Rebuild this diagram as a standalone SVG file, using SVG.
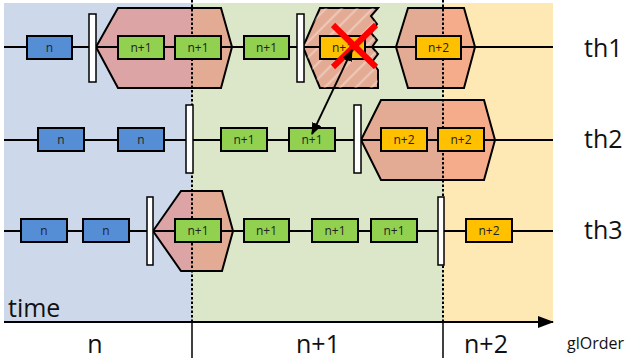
<svg xmlns="http://www.w3.org/2000/svg" width="629" height="362" viewBox="0 0 629 362">
  <style>
    .row { stroke: #000; stroke-width: 2; fill: none; }
    .sync { stroke: #000; stroke-width: 2; stroke-dasharray: 2.5 2; fill: none; }
    .tick { stroke: #000; stroke-width: 1.5; fill: none; }
    .hex { fill: rgba(236,112,96,0.5); stroke: #000; stroke-width: 2; stroke-linejoin: miter; }
    .bar { fill: #fff; stroke: #000; stroke-width: 1.5; }
    .box { stroke: #000; stroke-width: 2; }
    .bn { fill: #558ed5; }
    .bn1 { fill: #92d050; }
    .bn2 { fill: #ffc000; }
    .lbl { font-family: "Open Sans", "Noto Sans", sans-serif; font-size: 12px; fill: #222; text-anchor: middle; }
    .big { font-family: "Open Sans", "Noto Sans", sans-serif; font-size: 25px; fill: #111; }
    .mid { text-anchor: middle; }
  </style>
  <defs>
    <pattern id="hatch" patternUnits="userSpaceOnUse" width="11" height="11" patternTransform="rotate(-45)">
      <line x1="0" y1="5.5" x2="11" y2="5.5" stroke="#fff" stroke-width="1.8" stroke-opacity="0.4"/>
    </pattern>
    <marker id="head" viewBox="0 0 12 10" refX="11" refY="5" markerWidth="12" markerHeight="10" markerUnits="userSpaceOnUse" orient="auto-start-reverse">
      <path d="M0,0 L12,5 L0,10 z" fill="#000"/>
    </marker>
    <marker id="axisHead" viewBox="0 0 16 12" refX="15" refY="6" markerWidth="16" markerHeight="12" markerUnits="userSpaceOnUse" orient="auto">
      <path d="M0,0 L16,6 L0,12 z" fill="#000"/>
    </marker>
  </defs>

  <!-- phase bands -->
  <rect x="4" y="3" width="188" height="319" fill="#cdd9ea"/>
  <rect x="192" y="3" width="251" height="319" fill="#dce6c9"/>
  <rect x="443" y="3" width="110" height="319" fill="#fee9b5"/>

  <!-- parallel regions -->
  <g id="region-th1-a"><polygon class="hex" points="96,47 118,8 221,8 232,47 221,88 118,88"/></g>
  <g id="region-th1-b">
    <polygon class="hex" points="303,47 320,8 378,8 371,16 377,24 371,33 377,40 372,47 378,54 372,62 378,70 378,88 320,88"/>
    <polygon points="303,47 320,8 378,8 371,16 377,24 371,33 377,40 372,47 378,54 372,62 378,70 378,88 320,88" fill="url(#hatch)"/>
  </g>
  <g id="region-th1-c"><polygon class="hex" points="396,47 408,8 464,8 475,47 464,88 408,88"/></g>
  <g id="region-th2"><polygon class="hex" points="361,140 381,100 484,100 495,140 484,180 381,180"/></g>
  <g id="region-th3"><polygon class="hex" points="153,231 181,191 222,191 233,231 222,271 181,271"/></g>

  <!-- thread timelines -->
  <line class="row" x1="4" y1="47" x2="553" y2="47"/>
  <line class="row" x1="4" y1="140" x2="553" y2="140"/>
  <line class="row" x1="4" y1="231" x2="553" y2="231"/>

  <!-- phase boundaries -->
  <line class="sync" x1="192" y1="0" x2="192" y2="322"/>
  <line class="sync" x1="443" y1="0" x2="443" y2="322"/>

  <!-- barriers -->
  <g id="barrier-th1-1"><rect class="bar" x="89" y="14" width="7" height="68"/></g>
  <g id="barrier-th1-2"><rect class="bar" x="297" y="14" width="7" height="68"/></g>
  <g id="barrier-th2-1"><rect class="bar" x="186" y="105" width="7" height="68"/></g>
  <g id="barrier-th2-2"><rect class="bar" x="354" y="105" width="7" height="68"/></g>
  <g id="barrier-th3-1"><rect class="bar" x="147" y="197" width="6" height="68"/></g>
  <g id="barrier-th3-2"><rect class="bar" x="438" y="197" width="6" height="68"/></g>

  <!-- th1 tasks -->
  <g id="t1-1"><rect class="box bn" x="27" y="36" width="45" height="23"/><text class="lbl" x="49.5" y="52">n</text></g>
  <g id="t1-2"><rect class="box bn1" x="118" y="36" width="46" height="23"/><text class="lbl" x="141" y="52">n+1</text></g>
  <g id="t1-3"><rect class="box bn1" x="175" y="36" width="46" height="23"/><text class="lbl" x="198" y="52">n+1</text></g>
  <g id="t1-4"><rect class="box bn1" x="244" y="36" width="45" height="23"/><text class="lbl" x="266.5" y="52">n+1</text></g>
  <g id="t1-5"><rect class="box bn2" x="320" y="36" width="45" height="23"/><text class="lbl" x="342.5" y="52">n+1</text></g>
  <g id="t1-6"><rect class="box bn2" x="416" y="36" width="45" height="23"/><text class="lbl" x="438.5" y="52">n+2</text></g>

  <!-- th2 tasks -->
  <g id="t2-1"><rect class="box bn" x="38" y="128" width="46" height="23"/><text class="lbl" x="61" y="144">n</text></g>
  <g id="t2-2"><rect class="box bn" x="118" y="128" width="46" height="23"/><text class="lbl" x="141" y="144">n</text></g>
  <g id="t2-3"><rect class="box bn1" x="221" y="128" width="46" height="23"/><text class="lbl" x="244" y="144">n+1</text></g>
  <g id="t2-4"><rect class="box bn1" x="289" y="128" width="46" height="23"/><text class="lbl" x="312" y="144">n+1</text></g>
  <g id="t2-5"><rect class="box bn2" x="381" y="128" width="46" height="23"/><text class="lbl" x="404" y="144">n+2</text></g>
  <g id="t2-6"><rect class="box bn2" x="438" y="128" width="46" height="23"/><text class="lbl" x="461" y="144">n+2</text></g>

  <!-- th3 tasks -->
  <g id="t3-1"><rect class="box bn" x="21" y="219" width="46" height="23"/><text class="lbl" x="44" y="235">n</text></g>
  <g id="t3-2"><rect class="box bn" x="83" y="219" width="46" height="23"/><text class="lbl" x="106" y="235">n</text></g>
  <g id="t3-3"><rect class="box bn1" x="175" y="219" width="46" height="23"/><text class="lbl" x="198" y="235">n+1</text></g>
  <g id="t3-4"><rect class="box bn1" x="244" y="219" width="45" height="23"/><text class="lbl" x="266.5" y="235">n+1</text></g>
  <g id="t3-5"><rect class="box bn1" x="312" y="219" width="46" height="23"/><text class="lbl" x="335" y="235">n+1</text></g>
  <g id="t3-6"><rect class="box bn1" x="371" y="219" width="46" height="23"/><text class="lbl" x="394" y="235">n+1</text></g>
  <g id="t3-7"><rect class="box bn2" x="466" y="219" width="46" height="23"/><text class="lbl" x="489" y="235">n+2</text></g>

  <!-- cancelled task mark -->
  <g id="cancel">
    <line x1="333" y1="25" x2="376" y2="67" stroke="#ff0000" stroke-width="6"/>
    <line x1="376" y1="25" x2="333" y2="67" stroke="#ff0000" stroke-width="6"/>
  </g>

  <!-- connectors -->
  <g id="connectors">
    <line x1="352" y1="50" x2="312" y2="134" stroke="#000" stroke-width="1.8" marker-start="url(#head)" marker-end="url(#head)"/>
  </g>

  <!-- thread names -->
  <text class="big" x="584" y="57">th1</text>
  <text class="big" x="584" y="148">th2</text>
  <text class="big" x="584" y="239">th3</text>

  <!-- time axis -->
  <line x1="4" y1="322" x2="553" y2="322" stroke="#000" stroke-width="2" marker-end="url(#axisHead)"/>
  <line class="tick" x1="192" y1="322" x2="192" y2="358"/>
  <line class="tick" x1="443" y1="322" x2="443" y2="358"/>
  <text class="big" x="8" y="317">time</text>
  <text class="big mid" x="95" y="353">n</text>
  <text class="big mid" x="318" y="353">n+1</text>
  <text class="big mid" x="486" y="353">n+2</text>
  <text x="567" y="349" font-family="'Open Sans', 'Noto Sans', sans-serif" font-size="16" fill="#111">glOrder</text>
</svg>
